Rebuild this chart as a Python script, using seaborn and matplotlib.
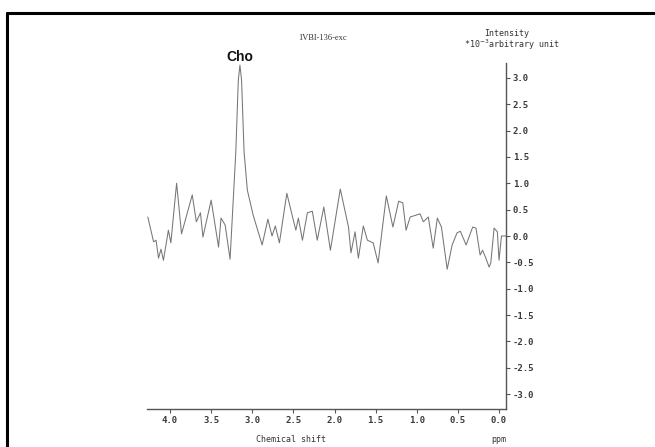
import numpy as np
import pandas as pd
import matplotlib
matplotlib.use("Agg")
import matplotlib.pyplot as plt
import seaborn as sns
from matplotlib.lines import Line2D

# --- data ---
ppm = [4.27, 4.20, 4.17, 4.14, 4.11, 4.08, 4.02, 3.99, 3.92, 3.86, 3.73, 3.68,
       3.63, 3.60, 3.50, 3.41, 3.38, 3.33, 3.27, 3.20, 3.17, 3.15, 3.13, 3.10,
       3.06, 2.99, 2.88, 2.81, 2.76, 2.72, 2.67, 2.58, 2.51, 2.47, 2.44, 2.39,
       2.33, 2.27, 2.21, 2.13, 2.05, 1.93, 1.83, 1.80, 1.75, 1.71, 1.65, 1.60,
       1.53, 1.47, 1.37, 1.29, 1.22, 1.17, 1.13, 1.08, 1.00, 0.96, 0.92, 0.86,
       0.80, 0.75, 0.70, 0.63, 0.57, 0.51, 0.47, 0.40, 0.32, 0.28, 0.23, 0.20,
       0.16, 0.12, 0.10, 0.06, 0.02, 0.00, -0.03, -0.08]
intensity = [0.36, -0.11, -0.08, -0.42, -0.25, -0.46, 0.11, -0.13, 1.00, 0.04, 0.78, 0.27,
             0.44, -0.02, 0.68, -0.21, 0.34, 0.21, -0.44, 1.60, 2.95, 3.24, 2.95, 1.60,
             0.87, 0.40, -0.17, 0.32, 0.00, 0.19, -0.13, 0.81, 0.36, 0.11, 0.34, -0.08,
             0.44, 0.47, -0.08, 0.55, -0.27, 0.89, 0.17, -0.32, 0.08, -0.42, 0.19, -0.08,
             -0.13, -0.51, 0.76, 0.17, 0.66, 0.63, 0.11, 0.36, 0.40, 0.42, 0.27, 0.36,
             -0.23, 0.34, 0.17, -0.63, -0.17, 0.06, 0.09, -0.17, 0.17, 0.15, -0.36, -0.27,
             -0.42, -0.59, -0.51, 0.15, 0.08, -0.46, 0.00, 0.00]
x_ticks = [4.0, 3.5, 3.0, 2.5, 2.0, 1.5, 1.0, 0.5, 0.0]
y_ticks = [3.0, 2.5, 2.0, 1.5, 1.0, 0.5, 0.0, -0.5, -1.0, -1.5, -2.0, -2.5, -3.0]
title = "1VBI-136-exc"
peak_label = "Cho"
peak_ppm = 3.15

df = pd.DataFrame({"ppm": ppm, "intensity": intensity})

sns.set_style("white")
plt.rcParams["font.family"] = ["DejaVu Sans"]

W, H = 655, 447
fig = plt.figure(figsize=(W / 100, H / 100), dpi=100)
ax = fig.add_axes([147 / W, 1 - 409 / H, (506 - 147) / W, (409 - 63) / H])

sns.lineplot(data=df, x="ppm", y="intensity", ax=ax, color="#767676",
             linewidth=0.75, estimator=None, sort=False)

ax.set_xlim(4.28, -0.085)
ax.set_ylim(-3.28, 3.28)

for s in ["top", "left"]:
    ax.spines[s].set_visible(False)
for s in ["bottom", "right"]:
    ax.spines[s].set_color("#555555")
    ax.spines[s].set_linewidth(1.0)

mono = {"family": "DejaVu Sans Mono", "size": 6.5, "color": "#3a3a3a",
        "weight": "bold"}
ax.set_xticks(x_ticks)
ax.set_xticklabels([f"{v:.1f}" for v in x_ticks], fontdict=mono)
ax.set_yticks(y_ticks)
ax.set_yticklabels([f"{v:.1f}" for v in y_ticks], fontdict=mono)
ax.yaxis.tick_right()
ax.tick_params(axis="both", length=3, width=0.8, color="#555555", pad=2,
               bottom=True, right=True, left=False, top=False)
ax.set_xlabel("")
ax.set_ylabel("")

# annotations
ax.text(peak_ppm, 3.40, peak_label, ha="center", va="center",
        fontsize=10, fontweight="bold", family="Liberation Sans", color="#111111",
        clip_on=False)
fig.text(323 / W, 1 - 38 / H, title, ha="center", va="center",
         fontsize=6, family="Liberation Serif", color="#333333")
fig.text(507 / W, 1 - 33 / H, "Intensity", ha="center", va="center",
         fontsize=6, family="DejaVu Sans Mono", color="#333333")
fig.text(512 / W, 1 - 45 / H, r"*10$^{-3}$arbitrary unit", ha="center", va="center",
         fontsize=6, family="DejaVu Sans Mono", color="#333333")
fig.text(291 / W, 1 - 440 / H, "Chemical shift", ha="center", va="center",
         fontsize=6, family="DejaVu Sans Mono", color="#333333")
fig.text(499 / W, 1 - 440 / H, "ppm", ha="center", va="center",
         fontsize=6, family="DejaVu Sans Mono", color="#333333")

# outer frame (top and left)
fig.add_artist(Line2D([7 / W, 1.0], [1 - 13 / H, 1 - 13 / H], transform=fig.transFigure,
                      color="black", linewidth=2.2))
fig.add_artist(Line2D([7 / W, 7 / W], [0, 1 - 13 / H], transform=fig.transFigure,
                      color="black", linewidth=2.2))

fig.savefig("out.png", dpi=100, facecolor="white")
